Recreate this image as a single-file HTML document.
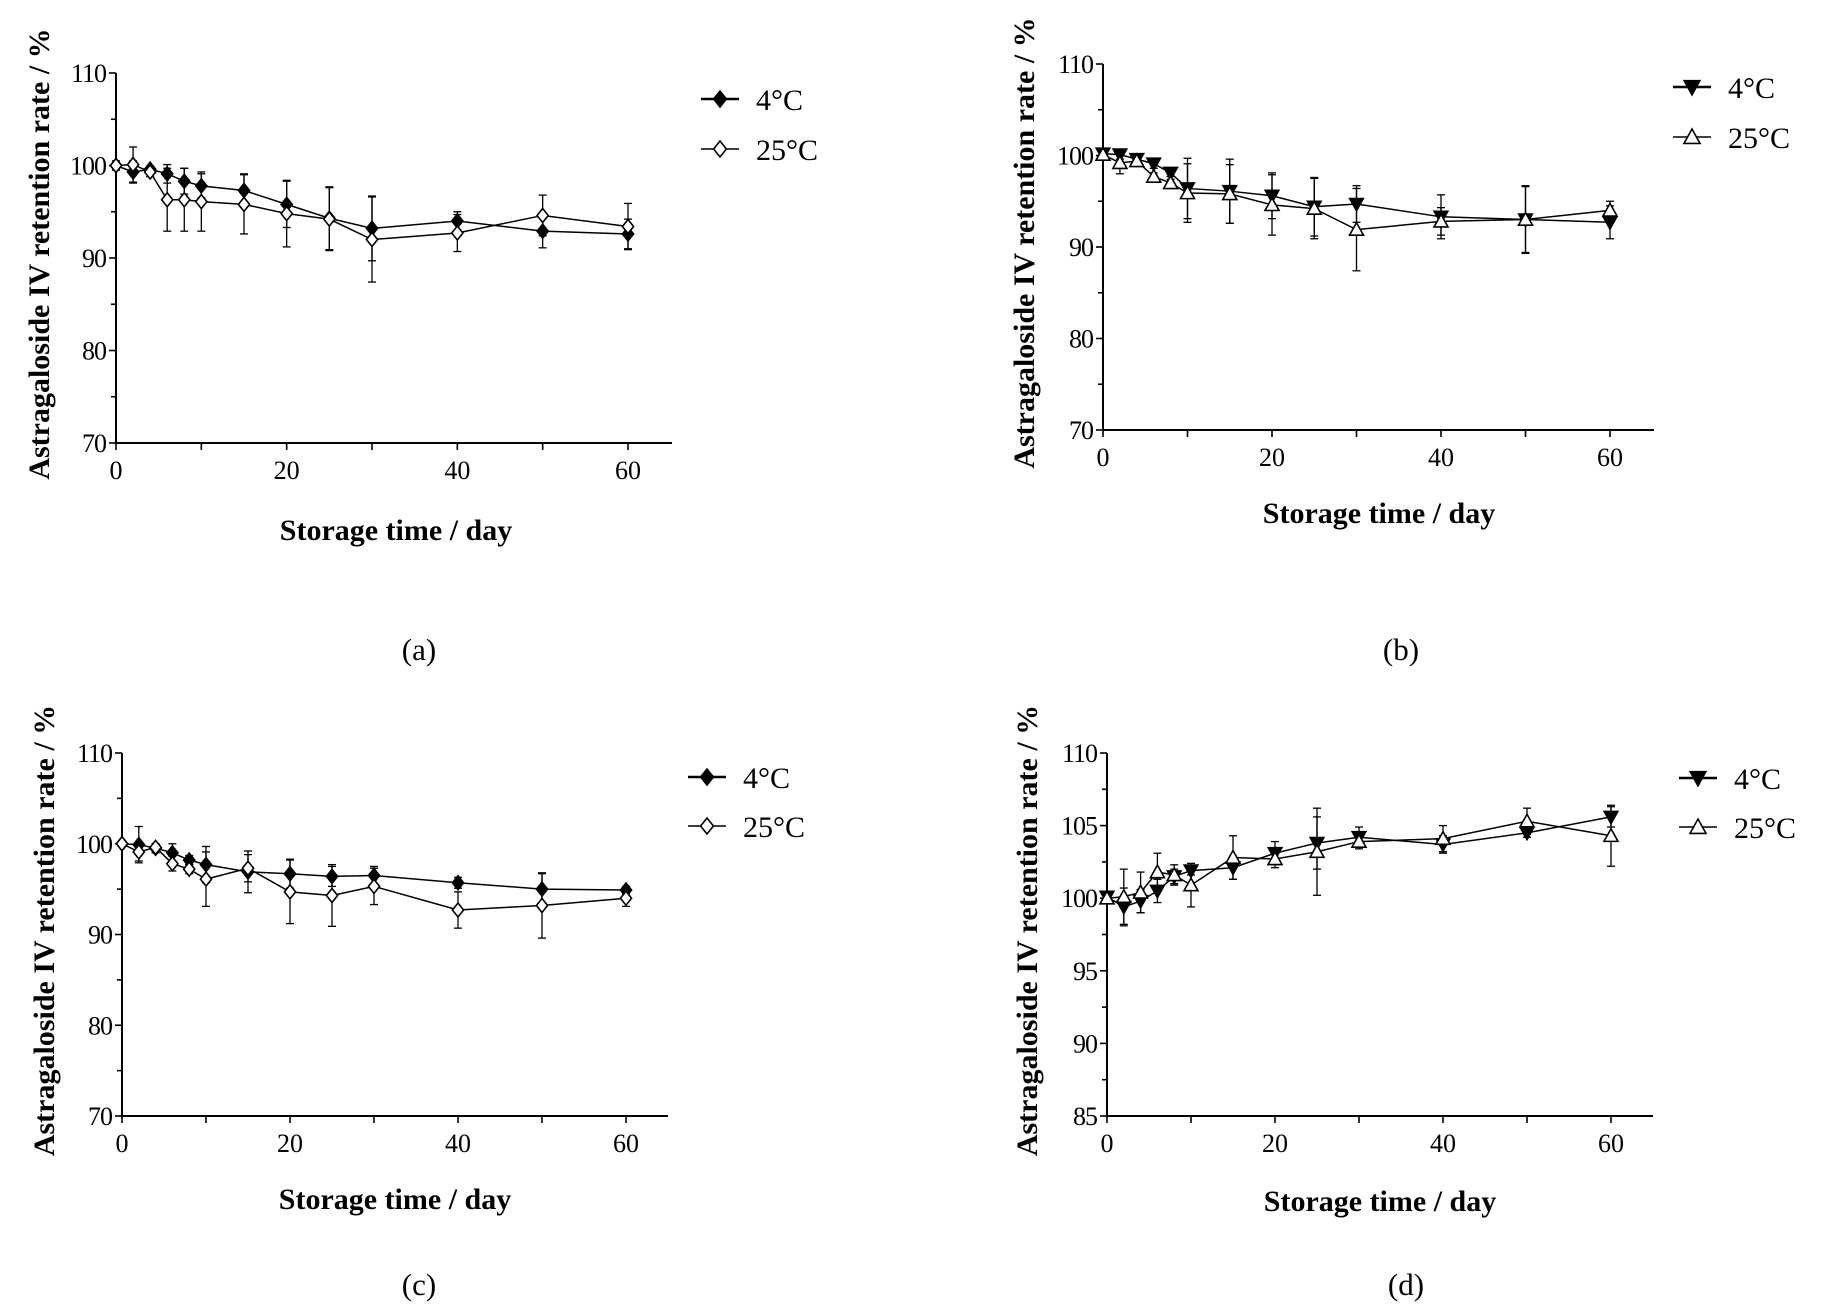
<!DOCTYPE html>
<html><head><meta charset="utf-8"><style>
html,body{margin:0;padding:0;background:#fff;}
svg{display:block;font-family:"Liberation Serif",serif;}
</style></head><body>
<svg id="fig" width="1824" height="1315" viewBox="0 0 1824 1315"></svg>
<script>
const days = [0,2,4,6,8,10,15,20,25,30,40,50,60];
const aCold = [100,99.3,99.6,99.1,98.3,97.8,97.3,95.8,94.3,93.2,94.0,92.9,92.6];
const aColdErr = [0.5,1.2,0.3,1,1.4,1.3,1.8,2.5,3.4,3.5,1,1.8,1.6];
const aWarm = [100,100.1,99.3,96.3,96.3,96.1,95.8,94.8,94.2,92.0,92.7,94.6,93.4];
const aWarmErr = [0,1.9,0.5,3.4,3.4,3.2,3.2,3.6,3.4,4.6,2,2.2,2.5];
const bCold = [100.2,100.1,99.6,99.1,98.1,96.4,96.1,95.6,94.4,94.7,93.3,93.0,92.7];
const bColdErr = [0.3,0.5,0.2,0.5,0.4,3.3,3.5,2.5,3.2,2,2.4,3.6,1.8];
const bWarm = [100.1,99.2,99.4,97.7,97.0,95.9,95.8,94.6,94.2,91.9,92.8,93.0,94.0];
const bWarmErr = [0.3,1.2,0.3,0.4,0.4,3.2,3.2,3.3,3.3,4.5,1.5,3.7,1];
const cCold = [100,99.9,99.5,99.0,98.2,97.7,96.9,96.7,96.4,96.5,95.7,95.0,94.9];
const cColdErr = [0.2,2,0.5,1,0.5,2,2.3,1.6,1.1,1,0.6,1.7,0.4];
const cWarm = [100,99.1,99.6,97.8,97.2,96.1,97.3,94.7,94.3,95.3,92.7,93.2,94.0];
const cWarmErr = [0.2,1,0.3,0.8,0.5,3,1.5,3.5,3.4,2,2,3.6,0.9];
const dCold = [100.1,99.4,99.8,100.5,101.5,101.9,102.1,103.1,103.8,104.2,103.7,104.5,105.6];
const dColdErr = [0.2,1.3,0.8,0.8,0.5,0.3,0.8,0.8,1.8,0.7,0.6,0.3,0.7];
const dWarm = [100,100.1,100.4,101.8,101.6,100.9,102.8,102.7,103.2,103.9,104.1,105.3,104.3];
const dWarmErr = [0.1,1.9,1.4,1.3,0.7,1.5,1.5,0.6,3,0.5,0.9,0.9,2.1];
const xTicks = [0,20,40,60];
const yTicksABC = [70,80,90,100,110];
const yTicksD = [85,90,95,100,105,110];

const NS="http://www.w3.org/2000/svg";
const svg=document.getElementById('fig');
function mk(tag,attrs,parent,text){const e=document.createElementNS(NS,tag);for(const k in attrs)e.setAttribute(k,attrs[k]);if(text!==undefined)e.textContent=text;(parent||svg).appendChild(e);return e;}

function marker(g,type,x,y,s){
  let e;
  if(type==='diamond'||type==='diamondOpen'){
    e=mk('polygon',{points:`${x},${y-s} ${x+s*0.8},${y} ${x},${y+s} ${x-s*0.8},${y}`,fill:type==='diamond'?'#000':'#fff',stroke:'#000','stroke-width':1.6},g);
  } else if(type==='down'){
    e=mk('polygon',{points:`${x-s},${y-s*0.8} ${x+s},${y-s*0.8} ${x},${y+s}`,fill:'#000',stroke:'#000','stroke-width':1.4},g);
  } else {
    e=mk('polygon',{points:`${x-s},${y+s*0.8} ${x+s},${y+s*0.8} ${x},${y-s}`,fill:'#fff',stroke:'#000','stroke-width':1.6},g);
  }
  return e;
}

function panel(p){
  const g=mk('g',{});
  
  
  const xs=d=>p.x0+(d/60)*(p.x60-p.x0);
  const ys=v=>p.yBot+(v-p.ymin)/(p.ymax-p.ymin)*(p.yTop-p.yBot);
  const ax=mk('path',{d:`M${p.x0},${p.yTop}V${p.yBot}H${p.xEnd}`,fill:'none',stroke:'#000','stroke-width':2},g);
  
  for(let v=p.ymin;v<=p.ymax+0.001;v+=p.minor){
    const major=p.yTicks.includes(v);
    mk('line',{x1:p.x0-(major?7:5),x2:p.x0,y1:ys(v),y2:ys(v),stroke:'#000','stroke-width':1.6},g);
  }
  p.yTicks.forEach(v=>{const t=mk('text',{x:p.x0-10,y:ys(v)+9,'text-anchor':'end','font-size':26,'letter-spacing':'-1'},g,String(v));
    });
  for(let d=0;d<=60;d+=10){mk('line',{x1:xs(d),x2:xs(d),y1:p.yBot,y2:p.yBot+7,stroke:'#000','stroke-width':1.6},g);}
  xTicks.forEach(d=>{const t=mk('text',{x:xs(d),y:p.yBot+36,'text-anchor':'middle','font-size':26},g,String(d));
    });
  p.series.forEach(s=>{
    const sg=mk('g',{},g);
    
    days.forEach((d,i)=>{const x=xs(d),e=s.err[i];if(e>0){
      mk('line',{x1:x,x2:x,y1:ys(s.vals[i]-e),y2:ys(s.vals[i]+e),stroke:'#000','stroke-width':1.3},sg);
      mk('line',{x1:x-4,x2:x+4,y1:ys(s.vals[i]-e),y2:ys(s.vals[i]-e),stroke:'#000','stroke-width':1.3},sg);
      mk('line',{x1:x-4,x2:x+4,y1:ys(s.vals[i]+e),y2:ys(s.vals[i]+e),stroke:'#000','stroke-width':1.3},sg);}});
    mk('polyline',{points:days.map((d,i)=>xs(d)+','+ys(s.vals[i])).join(' '),fill:'none',stroke:'#000','stroke-width':1.5},sg);
    days.forEach((d,i)=>{const m=marker(sg,s.type,xs(d),ys(s.vals[i]),7);
      });
  });
  p.series.forEach((s,i)=>{
    const lg=mk('g',{},g);
    
    const ly=p.legY[i];
    mk('line',{x1:p.legX-19,x2:p.legX+19,y1:ly,y2:ly,stroke:'#000','stroke-width':i===0?2.4:1.5},lg);
    marker(lg,s.type,p.legX,ly,8);
    mk('text',{x:p.legX+36,y:ly+11,'font-size':30},lg,s.label);
  });
  const xt=mk('text',{x:p.xLabX,y:p.xLabY,'text-anchor':'middle','font-size':30,'font-weight':'bold'},g,'Storage time / day');
  
  const cy=(p.yTop+p.yBot)/2-4;
  const yt=mk('text',{x:p.yLabX,y:cy,'text-anchor':'middle','font-size':30,'font-weight':'bold',transform:`rotate(-90 ${p.yLabX} ${cy})`},g,'Astragaloside IV retention rate / %');
  
  const cap=mk('text',{x:p.capX,y:p.capY,'text-anchor':'middle','font-size':31},g,'('+p.id+')');
  
}
const lbls=['4°C','25°C'];
panel({id:'a',x0:116,x60:628,xEnd:672,yTop:73,yBot:443,ymin:70,ymax:110,minor:5,yTicks:yTicksABC,
  legX:720,legY:[99,149],xLabX:396,xLabY:540,yLabX:49,capX:419,capY:660,
  series:[{name:'4c',label:lbls[0],type:'diamond',vals:aCold,err:aColdErr},{name:'25c',label:lbls[1],type:'diamondOpen',vals:aWarm,err:aWarmErr}]});
panel({id:'b',x0:1103,x60:1610,xEnd:1654,yTop:64,yBot:430,ymin:70,ymax:110,minor:5,yTicks:yTicksABC,
  legX:1692,legY:[87,137],xLabX:1379,xLabY:523,yLabX:1034,capX:1401,capY:660,
  series:[{name:'4c',label:lbls[0],type:'down',vals:bCold,err:bColdErr},{name:'25c',label:lbls[1],type:'up',vals:bWarm,err:bWarmErr}]});
panel({id:'c',x0:122,x60:626,xEnd:668,yTop:753,yBot:1116,ymin:70,ymax:110,minor:5,yTicks:yTicksABC,
  legX:707,legY:[777,826],xLabX:395,xLabY:1209,yLabX:54,capX:419,capY:1295,
  series:[{name:'4c',label:lbls[0],type:'diamond',vals:cCold,err:cColdErr},{name:'25c',label:lbls[1],type:'diamondOpen',vals:cWarm,err:cWarmErr}]});
panel({id:'d',x0:1107,x60:1611,xEnd:1653,yTop:753,yBot:1116,ymin:85,ymax:110,minor:2.5,yTicks:yTicksD,
  legX:1698,legY:[778,827],xLabX:1380,xLabY:1211,yLabX:1037,capX:1406,capY:1295,
  series:[{name:'4c',label:lbls[0],type:'down',vals:dCold,err:dColdErr},{name:'25c',label:lbls[1],type:'up',vals:dWarm,err:dWarmErr}]});
</script>
</body></html>
